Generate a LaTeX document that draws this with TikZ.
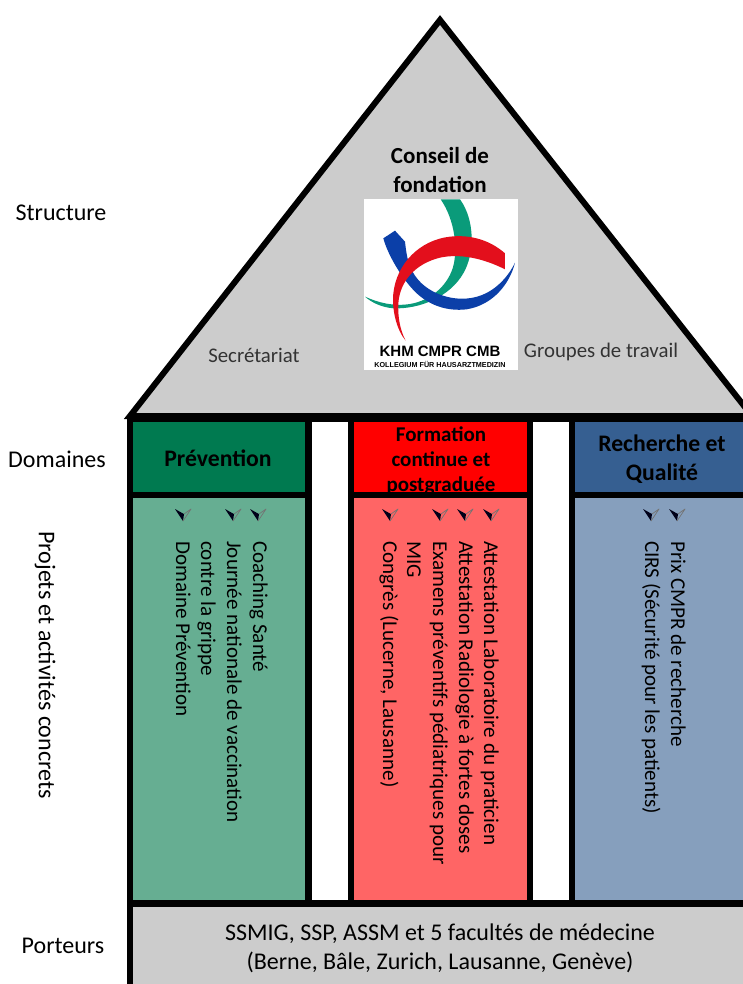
\documentclass[tikz,border=0pt]{standalone}
\usepackage{fontspec}
\setmainfont{Carlito}
\newfontfamily\logofont{Liberation Sans}
\usetikzlibrary{calc}

\definecolor{grisToit}{HTML}{CCCCCC}
\definecolor{vertTitre}{HTML}{007A50}
\definecolor{vertCorps}{HTML}{66AE92}
\definecolor{rougeTitre}{HTML}{FF0000}
\definecolor{rougeCorps}{HTML}{FF6565}
\definecolor{bleuTitre}{HTML}{365F91}
\definecolor{bleuCorps}{HTML}{869FBD}
\definecolor{tealLogo}{HTML}{0A9B7A}
\definecolor{blueLogo}{HTML}{0B3FA8}
\definecolor{redLogo}{HTML}{E30F1C}

\tikzset{
  etage/.style={font=\fontsize{24}{29}\selectfont, inner sep=0pt, text=black},
  titre/.style={font=\fontsize{23.7}{29}\selectfont\bfseries, align=center, inner sep=0pt, text=black},
  liste/.style={font=\fontsize{21.1}{25}\selectfont, rotate=-90, anchor=west, inner sep=0pt,
                text height=15pt, text depth=5pt, text=black},
  noir/.style={fill=black, draw=none},
  puce/.pic={
    \fill[black!90!blue] (-8,-6) -- (0,-1.5) -- (1,-1) -- (0,6) -- cycle;
    \draw[black!55, line width=.7pt, line join=round] (1,-1) -- (8,-6) -- (0,6);
  },
}

\begin{document}
\begin{tikzpicture}[x=1pt,y=-1pt]
\useasboundingbox (0,0) rectangle (743,984);
\clip (0,0) rectangle (743,984);

% toit
\draw[fill=grisToit, line width=6pt, miter limit=10] (130,416) -- (440,20) -- (752,416) -- cycle;

% murs
\fill[noir] (127,416) rectangle (743,984);
\fill[white] (312,422) rectangle (348,900);
\fill[white] (533,422) rectangle (569,900);

\fill[vertTitre] (133,422) rectangle (305,492);
\fill[vertCorps] (133,498) rectangle (305,900);
\fill[rougeTitre] (354,422) rectangle (527,492);
\fill[rougeCorps] (354,498) rectangle (527,900);
\fill[bleuTitre] (575,422) rectangle (743,492);
\fill[bleuCorps] (575,498) rectangle (743,900);
\fill[grisToit] (133,907) rectangle (743,984);

% logo
\node[fill=white, minimum width=154pt, minimum height=171pt, inner sep=0pt] (logo) at (441,284.5) {};
\begin{scope}[shift={(350,190)},x=.3333pt,y=-.3333pt]
\fill[tealLogo] (272,28) -- (330,28) .. controls (375,90) and (375,190) .. (340,250)
  .. controls (300,320) and (210,358) .. (130,355) .. controls (95,352) and (65,338) .. (45,320)
  .. controls (85,338) and (130,350) .. (180,342) .. controls (240,332) and (290,290) .. (308,235)
  .. controls (325,180) and (315,90) .. (272,28) -- cycle;
\fill[blueLogo] (100,145) -- (135,122) -- (165,155) .. controls (170,200) and (175,235) .. (205,270)
  .. controls (250,322) and (350,350) .. (425,300) .. controls (455,280) and (480,250) .. (495,218)
  .. controls (480,280) and (430,345) .. (350,358) .. controls (290,365) and (235,345) .. (195,305)
  .. controls (160,270) and (115,200) .. (100,145) -- cycle;
\fill[redLogo] (465,190) -- (465,238) .. controls (400,205) and (330,190) .. (270,203)
  .. controls (200,220) and (150,270) .. (145,340) .. controls (143,380) and (150,420) .. (167,452)
  .. controls (140,420) and (125,360) .. (130,310) .. controls (140,220) and (210,150) .. (300,140)
  .. controls (360,133) and (420,150) .. (465,190) -- cycle;
\end{scope}
\node[font=\logofont\bfseries\fontsize{15}{17}\selectfont, inner sep=0pt] (sigle) at (440,351) {KHM CMPR CMB};
\node[font=\logofont\bfseries\fontsize{7.2}{8}\selectfont, inner sep=0pt] (kollegium) at (440,364) {KOLLEGIUM FÜR HAUSARZTMEDIZIN};

% textes du toit
\node[titre, font=\fontsize{23}{29}\selectfont\bfseries] (conseil) at (440,170) {Conseil de\\fondation};
\node[etage, font=\fontsize{20.8}{25}\selectfont, text=black!80] (secretariat) at (254,355) {Secrétariat};
\node[etage, font=\fontsize{20.8}{25}\selectfont, text=black!80] (groupes) at (601,352) {Groupes de travail};

% colonne de gauche
\node[etage] (structure) at (61,212.5) {Structure};
\node[etage] (domaines) at (57,459) {Domaines};
\node[etage, rotate=-90] (projets) at (45,665) {Projets et activités concrets};
\node[etage] (porteurs) at (63,945.5) {Porteurs};

% titres
\node[titre] (prevention) at (218,458) {Prévention};
\node[titre, font=\fontsize{21}{25}\selectfont\bfseries] (formation) at (441,460.5) {Formation\\continue et\\postgraduée};
\node[titre] (recherche) at (662,459.5) {Recherche et\\Qualité};

% puces
\foreach \x in {183, 233, 258, 390, 440, 465, 491, 651, 677}
\pic at (\x,515) {puce};

% listes
\foreach \x/\texte [count=\i] in {
  258/Coaching Santé,
  232/Journée nationale de vaccination,
  206/contre la grippe,
  181/Domaine Prévention,
  489/Attestation Laboratoire du praticien,
  464/Attestation Radiologie à fortes doses,
  438/Examens préventifs pédiatriques pour,
  412/MIG,
  388/{Congrès (Lucerne, Lausanne)},
  676/Prix CMPR de recherche,
  650/CIRS (Sécurité pour les patients)}
\node[liste] (item\i) at (\x,541) {\texte};

% porteurs
\node[etage, align=center] (ssmig) at (440,948.5) {SSMIG, SSP, ASSM et 5 facultés de médecine\\(Berne, Bâle, Zurich, Lausanne, Genève)};

\end{tikzpicture}
\end{document}
